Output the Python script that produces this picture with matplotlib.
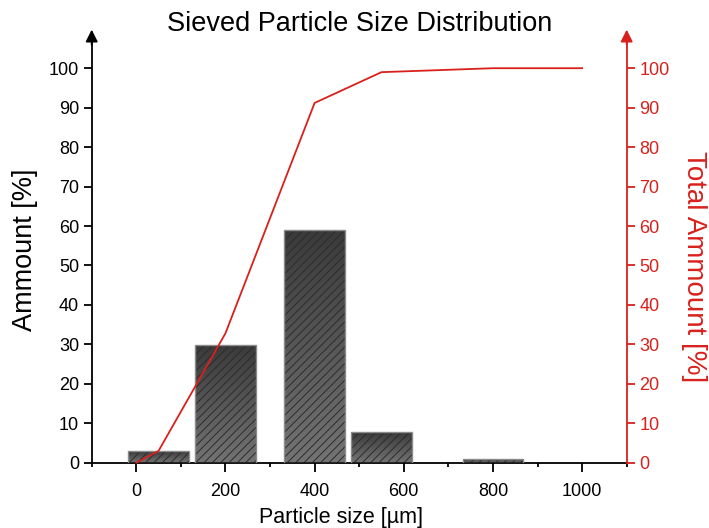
import numpy as np
import matplotlib
matplotlib.use("Agg")
import matplotlib.pyplot as plt
from matplotlib.colors import LinearSegmentedColormap

plt.rcParams['font.family'] = ['Liberation Sans', 'DejaVu Sans']
plt.rcParams['hatch.linewidth'] = 0.7

# Data
bar_x = [50, 200, 400, 550, 800]
bar_h = [3.0, 29.8, 59.0, 7.8, 1.0]
cum_x = [0, 50, 200, 400, 550, 800, 1000]
cum_y = [0, 3.0, 32.8, 91.2, 99.0, 100, 100]
x_ticks = [0, 200, 400, 600, 800, 1000]
y_ticks = [0, 10, 20, 30, 40, 50, 60, 70, 80, 90, 100]

RED = '#d8211c'
W, H = 709, 528
fig = plt.figure(figsize=(W / 100, H / 100), dpi=100)
L, R, B, T = 91.7, 626.7, 462.7, 40.6
ax = fig.add_axes([L / W, (H - B) / H, (R - L) / W, (B - T) / H])
ax2 = ax.twinx()

bar_w = 136
cmap = LinearSegmentedColormap.from_list('g', ['#747474', '#3a3a3a'])
grad = np.linspace(0, 1, 256).reshape(-1, 1)
bars = ax.bar(bar_x, bar_h, width=bar_w, facecolor='none', edgecolor='none', zorder=1)
for rect, x, h in zip(bars, bar_x, bar_h):
    im = ax.imshow(grad, cmap=cmap, origin='lower', aspect='auto',
                   extent=[x - bar_w / 2, x + bar_w / 2, 0, h], zorder=1,
                   interpolation='bilinear')
    im.set_clip_path(rect)
ax.bar(bar_x, bar_h, width=bar_w, fill=False, hatch='////', edgecolor='#2c2c2c',
       linewidth=0, zorder=2)
ax.bar(bar_x, bar_h, width=bar_w, fill=False, edgecolor='#8c8c8c',
       linewidth=1.0, zorder=3)

ax2.plot(cum_x, cum_y, color=RED, linewidth=1.3, zorder=5, clip_on=False)

ax.set_xlim(-100, 1100)
ax.set_ylim(0, 107)
ax2.set_ylim(0, 107)

ax.set_xticks(x_ticks)
ax.set_xticks([-100, 100, 300, 500, 700, 900, 1100], minor=True)
ax.set_yticks(y_ticks)
ax2.set_yticks(y_ticks)

for s in ['top']:
    ax.spines[s].set_visible(False)
    ax2.spines[s].set_visible(False)
ax.spines['right'].set_visible(False)
ax2.spines['left'].set_visible(False)
ax2.spines['bottom'].set_visible(False)
for sp in [ax.spines['left'], ax.spines['bottom']]:
    sp.set_linewidth(1.3)
    sp.set_color('black')
ax2.spines['right'].set_linewidth(1.3)
ax2.spines['right'].set_color(RED)

ax.tick_params(axis='x', which='major', direction='out', length=6.5, width=1.3,
               labelsize=13, pad=8)
ax.tick_params(axis='x', which='minor', direction='out', length=3, width=1.3)
ax.tick_params(axis='y', direction='out', length=6, width=1.3, labelsize=13, pad=3)
ax2.tick_params(axis='y', direction='out', length=6, width=1.3, labelsize=13,
                colors=RED, pad=3)

# arrows at axis tops
ax.annotate('', xy=(0, 1.0 + 11 / (B - T)), xytext=(0, 0.99), xycoords='axes fraction',
            arrowprops=dict(arrowstyle='-|>', color='black', lw=1.3,
                            mutation_scale=18, shrinkA=0, shrinkB=0))
ax2.annotate('', xy=(1, 1.0 + 11 / (B - T)), xytext=(1, 0.99), xycoords='axes fraction',
             arrowprops=dict(arrowstyle='-|>', color=RED, lw=1.3,
                             mutation_scale=18, shrinkA=0, shrinkB=0))

fig.text(360 / W, 1 - 24 / H, 'Sieved Particle Size Distribution', fontsize=19.5,
         ha='center', va='center')
fig.text(341 / W, 1 - 517 / H, 'Particle size [µm]', fontsize=15.5,
         ha='center', va='center')
fig.text(25 / W, 1 - 250 / H, 'Ammount [%]', fontsize=19.5, rotation=90,
         ha='center', va='center')
fig.text(694 / W, 1 - 267 / H, 'Total Ammount [%]', fontsize=20, rotation=-90,
         ha='center', va='center', color=RED)

fig.savefig('out.png', dpi=100)
